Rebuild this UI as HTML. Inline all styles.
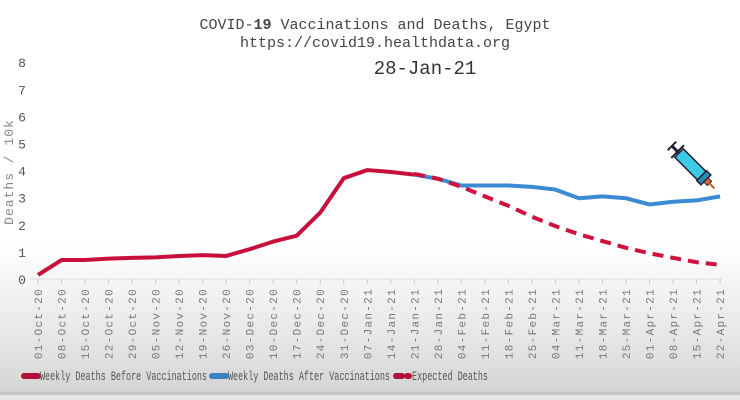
<!DOCTYPE html>
<html><head><meta charset="utf-8"><style>
html,body{margin:0;padding:0}
body{width:740px;height:400px;overflow:hidden;background:linear-gradient(to bottom,#fff 0,#fff 245px,#f3f3f3 290px,#e0e0e0 360px,#d4d4d4 392px,#b8b8b8 393px,#e8e8e8 396px);}
svg{position:absolute;left:0;top:0}
text{font-family:"Liberation Mono",monospace}
</style></head><body>
<svg id="s" width="740" height="400" xmlns="http://www.w3.org/2000/svg">
<text x="375" y="29" text-anchor="middle" font-size="15" fill="#444">COVID-<tspan font-weight="bold">19</tspan> Vaccinations and Deaths, Egypt</text>
<text x="375" y="47" text-anchor="middle" font-size="15" fill="#444">https://covid19.healthdata.org</text>
<text x="425" y="74" text-anchor="middle" font-size="19" fill="#333" font-family="Liberation Sans,sans-serif">28-Jan-21</text>
<text transform="translate(13,172) rotate(-90)" text-anchor="middle" font-size="13" fill="#888" letter-spacing="1">Deaths / 10k</text>
<line x1="30" y1="279" x2="722" y2="279" stroke="#ddd" stroke-width="1"/>
<g id="g"></g>
<g transform="translate(696,170) rotate(45)">
<rect x="-24" y="-6" width="32" height="12" fill="#3cc8e8" stroke="#223" stroke-width="1.5"/>
<rect x="8" y="-7" width="6" height="14" fill="#2a8ab0" stroke="#223" stroke-width="1.5"/>
<rect x="14" y="-3" width="5" height="6" fill="#d9662a" stroke="#223" stroke-width="1"/>
<line x1="19" y1="0" x2="26" y2="0" stroke="#c55a20" stroke-width="2"/>
<line x1="-24" y1="0" x2="-34" y2="0" stroke="#223" stroke-width="3"/>
<line x1="-34" y1="-6" x2="-34" y2="6" stroke="#223" stroke-width="2"/>
<line x1="-26" y1="-9" x2="-26" y2="9" stroke="#223" stroke-width="2"/>
</g>
<g font-size="12.5">
<line x1="24" y1="376" x2="38" y2="376" stroke="#b0103a" stroke-width="6" stroke-linecap="round"/>
<text x="40" y="380" fill="#555" textLength="167" lengthAdjust="spacingAndGlyphs">Weekly Deaths Before Vaccinations</text>
<line x1="212" y1="376" x2="226" y2="376" stroke="#3a80c4" stroke-width="6" stroke-linecap="round"/>
<text x="228" y="380" fill="#555" textLength="162" lengthAdjust="spacingAndGlyphs">Weekly Deaths After Vaccinations</text>
<line x1="396" y1="376" x2="402" y2="376" stroke="#b0103a" stroke-width="6" stroke-linecap="round"/>
<line x1="407" y1="376" x2="409" y2="376" stroke="#b0103a" stroke-width="6" stroke-linecap="round"/>
<text x="412" y="380" fill="#555" textLength="76" lengthAdjust="spacingAndGlyphs">Expected Deaths</text>
</g>
</svg>
<script>
var g=document.getElementById('g'),h='';
var X=i=>38+i*23.52,Y=v=>279-v*27.1;
for(var k=0;k<=8;k++)h+='<text x="22" y="'+(Y(k)+5)+'" text-anchor="middle" font-size="13" fill="#555" font-family="Liberation Sans,sans-serif">'+k+'</text>';
var d=["01-Oct-20","08-Oct-20","15-Oct-20","22-Oct-20","29-Oct-20","05-Nov-20","12-Nov-20","19-Nov-20","26-Nov-20","03-Dec-20","10-Dec-20","17-Dec-20","24-Dec-20","31-Dec-20","07-Jan-21","14-Jan-21","21-Jan-21","28-Jan-21","04-Feb-21","11-Feb-21","18-Feb-21","25-Feb-21","04-Mar-21","11-Mar-21","18-Mar-21","25-Mar-21","01-Apr-21","08-Apr-21","15-Apr-21","22-Apr-21"];
d.forEach((t,i)=>{var x=X(i);h+='<line x1="'+x+'" y1="279" x2="'+x+'" y2="284" stroke="#ccc"/>';
h+='<text transform="translate('+(x+4)+',288) rotate(-90)" text-anchor="end" font-size="11" fill="#777" letter-spacing="1.3">'+t+'</text>';});
function pl(a,o,c,ex){return '<polyline fill="none" stroke="'+c+'" stroke-width="4" stroke-linejoin="round" '+ex+' points="'+a.map((v,i)=>X(i+o)+','+Y(v)).join(' ')+'"/>';}
var red=[0.15,0.7,0.7,0.75,0.78,0.8,0.85,0.88,0.85,1.1,1.38,1.6,2.45,3.72,4.02,3.95,3.85];
var blue=[3.85,3.7,3.45,3.45,3.45,3.4,3.3,2.98,3.05,2.98,2.75,2.85,2.9,3.05];
var exp=[3.88,3.7,3.4,3.05,2.7,2.3,1.95,1.65,1.4,1.15,0.95,0.78,0.62,0.52];
h+=pl(blue,16,'#3a8ad4','');
h+=pl(red,0,'#c8103c','');
h+=pl(exp,16,'#d0103e','stroke-dasharray="11,7"');
g.innerHTML=h;
</script>
</body></html>
